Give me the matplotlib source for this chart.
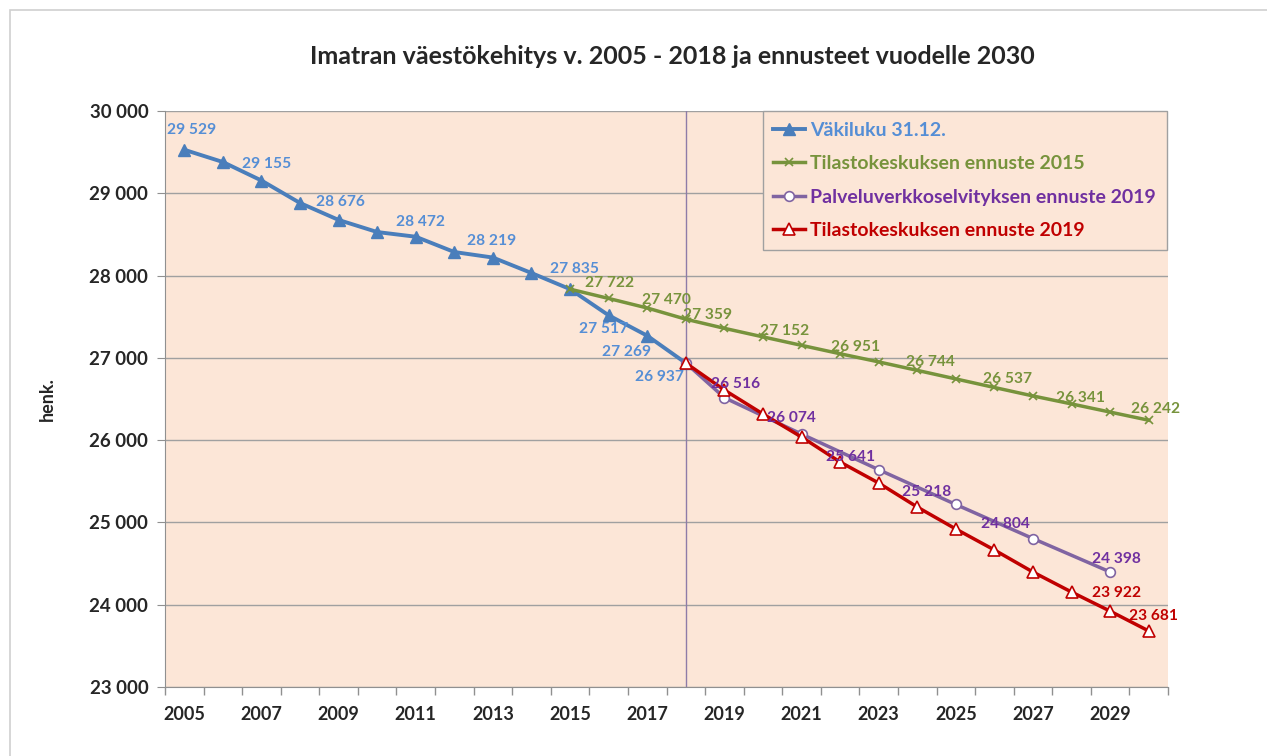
import numpy as np
import matplotlib
matplotlib.use("Agg")
import matplotlib.pyplot as plt
from matplotlib.patches import Rectangle
from matplotlib.ticker import FuncFormatter

plt.rcParams['font.family'] = ['Lato', 'DejaVu Sans']

years = list(range(2005, 2031))
nan = np.nan
vakiluku = [29529, 29380, 29155, 28882, 28676, 28529, 28472, 28286, 28219, 28031,
            27835, 27517, 27269, 26937] + [nan] * 12
tk2015 = [nan] * 10 + [27835, 27722, 27606, 27470, 27359, 27255, 27152, 27050, 26951,
                       26848, 26744, 26640, 26537, 26440, 26341, 26242]
pv2019 = [nan] * 13 + [26937, 26516, nan, 26074, nan, 25641, nan, 25218, nan, 24804,
                       nan, 24398, nan]
tk2019 = [nan] * 13 + [26937, 26609, 26318, 26038, 25734, 25479, 25187, 24920, 24665,
                       24397, 24154, 23922, 23681]

series_names = ["Väkiluku 31.12.", "Tilastokeskuksen ennuste 2015",
                "Palveluverkkoselvityksen ennuste 2019", "Tilastokeskuksen ennuste 2019"]
title = "Imatran väestökehitys v. 2005 - 2018 ja ennusteet vuodelle 2030"

# labelled points: (year, offset px x, offset px y)
blue_lbl = [(2005, 7, 20), (2007, 5, 17), (2009, 2, 18), (2011, 5, 15), (2013, -1, 17),
            (2015, 4, 20), (2016, -5, -14), (2017, -21, -16), (2018, -26, -14)]
green_lbl = [(2016, 1, 15), (2018, -19, 19), (2019, -17, 13), (2021, -17, 14),
             (2023, -23, 15), (2025, -25, 17), (2027, -25, 17), (2029, -30, 14),
             (2030, 7, 11)]
purple_lbl = [(2019, 11, 14), (2021, -10, 16), (2023, -28, 13), (2025, -29, 12),
              (2027, -28, 15), (2029, 6, 13)]
red_lbl = [(2029, 6, 18), (2030, 5, 15)]

BLUE = "#4A7EBB"
BLUE_T = "#558ED5"
GREEN = "#77933C"
PURPLE = "#8064A2"
PURPLE_T = "#7030A0"
RED = "#C00000"
BG = "#FCE6D7"

fig = plt.figure(figsize=(12.67, 7.56), dpi=100)
fig.patches.append(Rectangle((10 / 1267, -0.01), 1.02, 1 - 10 / 756 + 0.01,
                             transform=fig.transFigure, fill=False,
                             edgecolor="#D0D0D0", linewidth=1.2))
ax = fig.add_axes([165 / 1267, 69 / 756, 1003 / 1267, 576 / 756])
ax.set_facecolor(BG)

x = np.arange(len(years))

def masked(v):
    a = np.array(v, dtype=float)
    m = ~np.isnan(a)
    return x[m], a[m]

xb, yb = masked(vakiluku)
xg, yg = masked(tk2015)
xp, yp = masked(pv2019)
xr, yr = masked(tk2019)

ax.axvline(years.index(2018), color="#8E7CA8", lw=1.0, zorder=1)

ax.plot(xb, yb, color=BLUE, lw=2.8, marker="^", ms=9, mfc=BLUE, mec=BLUE,
        label=series_names[0], zorder=3)
ax.plot(xg, yg, color=GREEN, lw=2.5, marker="x", ms=6, mew=1.2, mec=GREEN,
        label=series_names[1], zorder=3)
ax.plot(xp, yp, color=PURPLE, lw=2.5, marker="o", ms=7, mfc="white", mec=PURPLE,
        mew=1.2, label=series_names[2], zorder=4)
ax.plot(xr, yr, color=RED, lw=2.5, marker="^", ms=8, mfc="white", mec=RED,
        mew=1.2, label=series_names[3], zorder=5)

def put_labels(lbls, data, color):
    for yr_, dx, dy in lbls:
        i = years.index(yr_)
        v = data[i]
        ax.annotate(f"{int(v):,}".replace(",", " "), (i, v),
                    xytext=(dx, dy), textcoords="offset pixels",
                    ha="center", va="center", fontsize=11.2, fontweight="bold",
                    color=color, zorder=6)

put_labels(blue_lbl, vakiluku, BLUE_T)
put_labels(green_lbl, tk2015, GREEN)
put_labels(purple_lbl, pv2019, PURPLE_T)
put_labels(red_lbl, tk2019, RED)

ax.set_xlim(-0.5, len(years) - 0.5)
ax.set_ylim(23000, 30000)
ax.set_yticks(np.arange(23000, 30001, 1000))
ax.yaxis.set_major_formatter(FuncFormatter(lambda v, p: f"{int(v):,}".replace(",", " ")))
ax.grid(axis="y", color="#A0A0A0", lw=1.0)
ax.set_axisbelow(True)

ax.set_xticks(x[::2])
ax.set_xticklabels([str(y) for y in years[::2]])
ax.set_xticks(np.arange(-0.5, len(years), 1), minor=True)
ax.tick_params(axis="x", which="major", length=0, pad=14, labelsize=13)
ax.tick_params(axis="x", which="minor", length=6, color="#909090", width=1)
ax.tick_params(axis="y", length=6, color="#909090", labelsize=13.5, pad=6)
for lab in ax.get_xticklabels() + ax.get_yticklabels():
    lab.set_fontweight("bold")
    lab.set_color("#262626")

for s in ["top", "right"]:
    ax.spines[s].set_visible(False)
ax.spines["left"].set_color("#909090")
ax.spines["bottom"].set_color("#909090")

ax.set_ylabel("henk.", fontsize=13, fontweight="bold", color="#262626", labelpad=24)

fig.text(672 / 1267, 1 - 56 / 756, title, ha="center", va="center",
         fontsize=18, fontweight="bold", color="#262626")

leg = ax.legend(loc="upper left", bbox_to_anchor=(0.596, 1.0), fontsize=14,
                frameon=True, fancybox=False, edgecolor="#A0A0A0", facecolor=BG,
                framealpha=1, handlelength=1.6, handletextpad=0.3, labelspacing=0.85,
                borderpad=0.55, borderaxespad=0)
leg.get_frame().set_linewidth(1.0)
for t, c in zip(leg.get_texts(), [BLUE_T, GREEN, PURPLE_T, RED]):
    t.set_color(c)
    t.set_fontweight("bold")

fig.savefig("out.png", dpi=100)
